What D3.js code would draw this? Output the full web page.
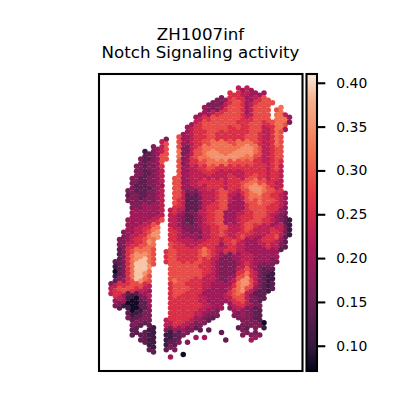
<!DOCTYPE html>
<html><head><meta charset="utf-8">
<script src="https://cdn.jsdelivr.net/npm/d3@7"></script>
<style>html,body{margin:0;padding:0;background:#fff}svg{display:block}text{font-family:"DejaVu Sans",sans-serif;fill:#000}</style>
</head><body><svg id="c" width="400" height="400"></svg>
<script>
const titleLines = ["ZH1007inf", "Notch Signaling activity"];
const tickValues = [0.10, 0.15, 0.20, 0.25, 0.30, 0.35, 0.40];
const valueLevels = [0.08,0.11,0.14,0.17,0.20,0.23,0.26,0.29,0.32,0.35,0.39];
const rocketStops = ["#03051a","#35193e","#701f57","#ad1759","#e13342","#f37651","#f6b48f","#faebdd"];
const rocketPositions = [0,0.083,0.25,0.417,0.583,0.75,0.917,1];
const valueExtent = [0.0712,0.41];
// [row, first column, one level code per spot]
const spotRuns = [
[0,30,"5454"],[1,28,"666554444"],[2,25,"3346766445677"],[3,23,"3333567764567777"],
[4,22,"4333467776457777"],[4,39,"78"],[5,21,"44456677776457777"],[5,39,"885"],
[6,20,"456677777776567777"],[6,39,"8884"],[7,19,"456777777776667776678873"],
[8,18,"456677777766766777556884"],[9,17,"445666776666666677655687"],
[10,13,"3"],[10,16,"7445666776666666777655687"],
[11,12,"57"],[11,16,"7445667788887788887655687"],
[12,10,"3457"],[12,16,"7335678888888889998755677"],
[13,8,"123457"],[13,16,"8335778999888999998755677"],
[14,7,"3223477"],[14,16,"8346788899999998887655677"],
[15,7,"323347"],[15,16,"7346677888887777776655676"],
[16,6,"3323346"],[16,16,"7445566776666666666665675"],
[17,6,"3322345"],[17,16,"7445556665555555666665665"],
[18,5,"33223345"],[18,15,"77445555555556655677665665"],
[19,5,"33223345"],[19,15,"77445566666656667788776655"],
[20,5,"32222344"],[20,15,"77444555666656667899987655"],
[21,4,"332223345"],[21,15,"775333455567765567899877664"],
[22,4,"233223345"],[22,15,"775222355567754457888776654"],
[23,4,"333333345"],[23,15,"765222355567754447778777654"],
[24,5,"33344445"],[24,15,"665222356667744446777766653"],
[25,5,"44444445"],[25,14,"5654232556677444456677766543"],
[26,5,"44444455"],[26,14,"5543223456677444566677765432"],
[27,4,"444445567"],[27,14,"55432234566774445667776654321"],
[28,4,"44455678"],[28,14,"55433334556677555677655545531"],
[29,3,"344556789"],[29,14,"66543333556676555676555566531"],
[30,3,"345566899"],[30,14,"66544443556676556765545667521"],
[31,2,"334566798"],[31,14,"6655554556665667654445666542"],
[32,2,"335667788"],[32,14,"7666555666654566554444565532"],
[33,2,"236788887"],[33,13,"6776666678765566655444444442"],
[34,2,"236899987"],[34,13,"677666667876543344555444444"],
[35,1,"223689aa87"],[35,13,"677666667665433334555444433"],
[36,1,"12368aaa97"],[36,14,"7777777666543333456543333"],
[37,1,"02368aaa8"],[37,14,"7777777766543333567643222"],
[38,1,"12368aa97"],[38,14,"7777777765543334678653211"],
[39,1,"23467a987"],[39,14,"7877766655543345799753211"],
[40,0,"3566677765"],[40,14,"6777666655444446899753212"],
[41,0,"5677766554"],[41,14,"6777766654444457897542212"],
[42,0,"5664212345"],[42,14,"67766665444445678753222"],
[43,1,"454100234"],[43,14,"66666665544444567753322"],
[44,1,"331000224"],[44,14,"6666666655444"],[44,28,"45665433"],
[45,2,"2"],[45,4,"100123"],[45,14,"6666666554434"],[45,28,"34543322"],
[46,4,"211233"],[46,14,"666666554333"],[46,29,"3343322"],
[47,4,"322333"],[47,13,"566666544322"],[47,30,"333322"],
[48,5,"3322"],[48,9,"2"],[48,13,"5566554333"],[48,31,"333330"],
[49,5,"22"],[49,9,"11"],[49,13,"334443322"],[49,23,"2"],[49,30,"232"],[49,34,"3"],[49,36,"1"],
[50,5,"222211"],[50,13,"112233"],[50,26,"2"],[50,31,"33333"],
[51,7,"2211"],[51,13,"1122"],[51,20,"4"],[51,22,"4"],[51,27,"2"],[51,33,"44"],
[52,8,"211"],[52,13,"1223"],[52,18,"3"],
[53,9,"21"],[53,13,"233"],
[54,10,"2"],[54,17,"0"],
[55,14,"4"]
];

const svg = d3.select("#c");
const frame = {left:99,right:302.5,top:74,bottom:371};
const bar = {left:306.5,right:317};

const title = svg.append("g").attr("text-anchor","middle").attr("font-size",16.67);
titleLines.forEach((t,i)=>title.append("text").attr("x",200.5).attr("y",40+i*17.5).text(t));

const x = d3.scaleLinear().domain([0,42]).range([111,289.5]);
const y = d3.scaleLinear().domain([0,55]).range([88,357]);
const rowStep = y(1)-y(0);
const vDomain = rocketPositions.map(p=>valueExtent[0]+p*(valueExtent[1]-valueExtent[0]));
const color = d3.scaleLinear().domain(vDomain).range(rocketStops).interpolate(d3.interpolateRgb);

const spots = [];
spotRuns.forEach(([r,c0,s])=>{
  for(let i=0;i<s.length;i++){
    const c=c0+i;
    spots.push({c,r,v:valueLevels[parseInt(s[i],11)]});
  }
});
svg.append("g").selectAll("circle").data(spots).join("circle")
  .attr("cx",d=>x(d.c))
  .attr("cy",d=>y(d.r)+(d.c%2?rowStep/2:0))
  .attr("r",2.75)
  .attr("fill",d=>color(d.v));

svg.append("rect").attr("x",frame.left).attr("y",frame.top)
  .attr("width",frame.right-frame.left).attr("height",frame.bottom-frame.top)
  .attr("fill","none").attr("stroke","#000").attr("stroke-width",2.08);

const grad = svg.append("defs").append("linearGradient").attr("id","rk")
  .attr("x1",0).attr("y1",1).attr("x2",0).attr("y2",0);
rocketStops.forEach((c,i)=>grad.append("stop").attr("offset",rocketPositions[i]).attr("stop-color",c));
svg.append("rect").attr("x",bar.left).attr("y",frame.top)
  .attr("width",bar.right-bar.left).attr("height",frame.bottom-frame.top)
  .attr("fill","url(#rk)").attr("stroke","#000").attr("stroke-width",2.08);

const cy = d3.scaleLinear().domain(valueExtent).range([frame.bottom,frame.top]);
const axis = d3.axisRight(cy).tickValues(tickValues).tickFormat(d3.format(".2f")).tickSize(8.3).tickPadding(11).tickSizeOuter(0);
const ag = svg.append("g").attr("transform",`translate(${bar.right},0)`).call(axis);
ag.select(".domain").remove();
ag.selectAll("line").attr("stroke","#000").attr("stroke-width",2.08);
ag.selectAll("text").attr("font-size",13.9).attr("font-family","DejaVu Sans");
</script></body></html>
